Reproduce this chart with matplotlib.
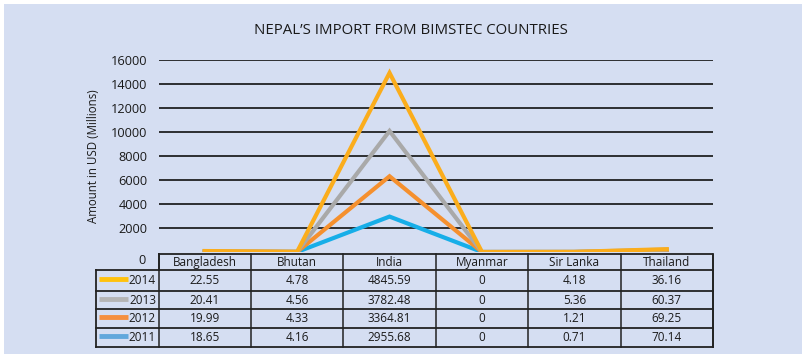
import numpy as np
import matplotlib.pyplot as plt
from matplotlib.patches import Rectangle

plt.rcParams['font.family'] = ['Open Sans', 'DejaVu Sans']

countries = ["Bangladesh", "Bhutan", "India", "Myanmar", "Sir Lanka", "Thailand"]
years = ["2014", "2013", "2012", "2011"]
imports = {
    "2014": [22.55, 4.78, 4845.59, 0, 4.18, 36.16],
    "2013": [20.41, 4.56, 3782.48, 0, 5.36, 60.37],
    "2012": [19.99, 4.33, 3364.81, 0, 1.21, 69.25],
    "2011": [18.65, 4.16, 2955.68, 0, 0.71, 70.14],
}
labels = {
    "2014": ["22.55", "4.78", "4845.59", "0", "4.18", "36.16"],
    "2013": ["20.41", "4.56", "3782.48", "0", "5.36", "60.37"],
    "2012": ["19.99", "4.33", "3364.81", "0", "1.21", "69.25"],
    "2011": ["18.65", "4.16", "2955.68", "0", "0.71", "70.14"],
}
line_colors = {"2014": "#fbad1c", "2013": "#a9a9a9", "2012": "#f5902e", "2011": "#17aee8"}
key_colors = {"2014": "#ffc20e", "2013": "#b5b5b5", "2012": "#f58f3f", "2011": "#62a8dc"}
yticks = [2000, 4000, 6000, 8000, 10000, 12000, 14000, 16000]

W, H = 802, 355
bg = "#d5def2"
txt_c = "#1a1a1a"
fig = plt.figure(figsize=(W / 100, H / 100), dpi=100)
fig.patch.set_facecolor("white")

# panel background, drawn in pixel coordinates
panel = fig.add_axes([0, 0, 1, 1])
panel.set_xlim(0, W)
panel.set_ylim(H, 0)
panel.axis("off")
panel.add_patch(Rectangle((4, 4), W - 4, H - 5.5, facecolor=bg, edgecolor="none"))

# chart area
x0, x1 = 158.5, 713
y_top, y_zero = 60.3, 252
ax = fig.add_axes([x0 / W, 1 - y_zero / H, (x1 - x0) / W, (y_zero - y_top) / H])
ax.set_facecolor("none")
ax.set_xlim(0, len(countries))
ax.set_ylim(0, 16000)
for s in ax.spines.values():
    s.set_visible(False)
ax.set_yticks(yticks)
ax.set_yticklabels([str(v) for v in yticks], fontsize=9.2, color=txt_c)
ax.set_xticks([])
ax.tick_params(axis="y", length=0, pad=8)
for v in yticks:
    ax.axhline(v, color="#111111", lw=1.2, zorder=1)
ax.set_ylabel("Amount in USD (Millions)", fontsize=8.3, color=txt_c, labelpad=8)
# zero label sits level with the table header
panel.text(146, 261, "0", ha="right", va="center", fontsize=9.2, color=txt_c)

# stacked lines, 2011 at the bottom
xs = np.arange(len(countries)) + 0.5
running = np.zeros(len(countries))
for yr in ["2011", "2012", "2013", "2014"]:
    running = running + np.array(imports[yr])
    ax.plot(xs, running, color=line_colors[yr], lw=3, zorder=3, solid_joinstyle="miter")

fig.text(411 / W, 1 - 31 / H, "NEPAL\u2019S IMPORT FROM BIMSTEC COUNTRIES",
         ha="center", va="center", fontsize=10.8, color=txt_c)

# data table under the chart
col_w = (x1 - x0) / len(countries)
hdr_top, hdr_bot = 254, 270
row_edges = [270, 291, 309, 328, 347]
lab_x0 = 95.5
lc = "#222222"
panel.plot([x0, x1, x1], [hdr_top, hdr_top, row_edges[-1]], color=lc, lw=1.3)
panel.plot([x0, x0], [hdr_top, hdr_bot], color=lc, lw=1.3)
for y in row_edges:
    panel.plot([lab_x0, x1], [y, y], color=lc, lw=1.3)
panel.plot([lab_x0, lab_x0], [hdr_bot, row_edges[-1]], color=lc, lw=1.3)
for i in range(len(countries) + 1):
    panel.plot([x0 + i * col_w] * 2, [hdr_top, row_edges[-1]], color=lc, lw=1.1)
for i, c in enumerate(countries):
    panel.text(x0 + (i + 0.5) * col_w, (hdr_top + hdr_bot) / 2 + 0.5, c,
               ha="center", va="center", fontsize=8.5, color=txt_c)
for r, yr in enumerate(years):
    yc = (row_edges[r] + row_edges[r + 1]) / 2
    panel.plot([99, 128], [yc - 1.5, yc - 1.5], color=key_colors[yr], lw=3.5,
               solid_capstyle="butt")
    panel.text(156, yc, yr, ha="right", va="center", fontsize=8.5, color=txt_c)
    for i, txt in enumerate(labels[yr]):
        panel.text(x0 + (i + 0.5) * col_w, yc, txt, ha="center", va="center",
                   fontsize=8.5, color=txt_c)

fig.savefig("out.png", dpi=100, facecolor=fig.get_facecolor())
